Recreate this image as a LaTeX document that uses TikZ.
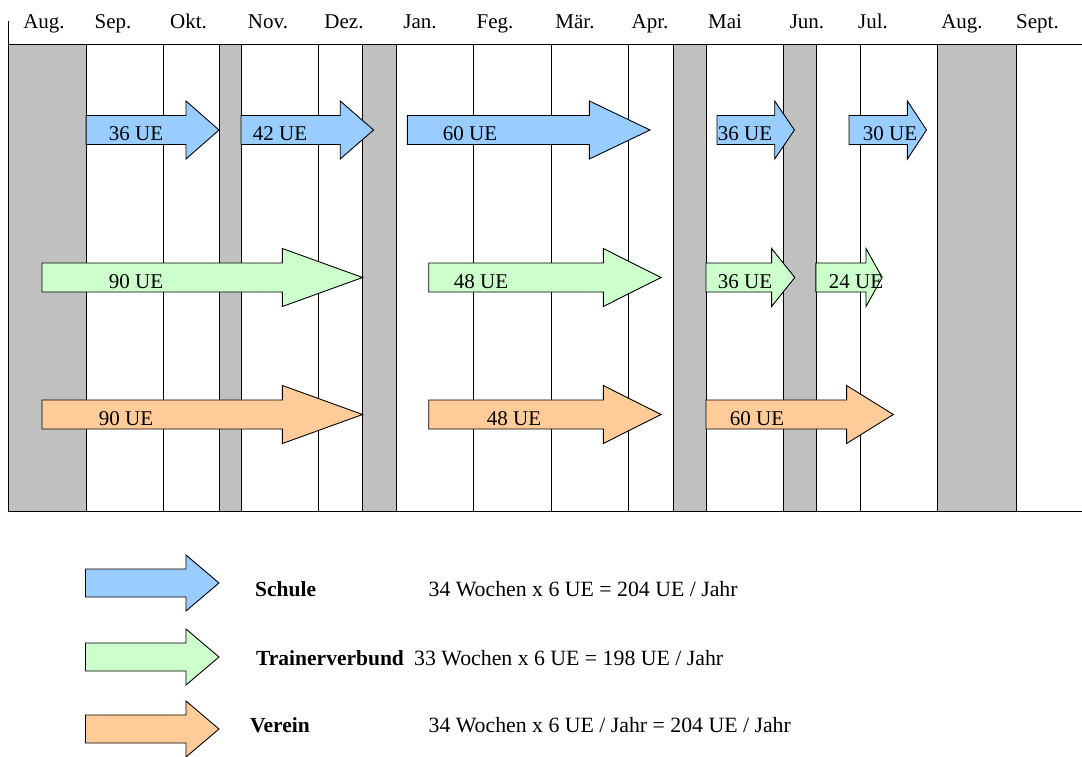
\documentclass[tikz,border=0pt]{standalone}
\usepackage{fontspec}
\setmainfont{Liberation Serif}
\definecolor{holgray}{HTML}{C0C0C0}
\definecolor{schule}{HTML}{99CCFF}
\definecolor{trainer}{HTML}{CCFFCC}
\definecolor{verein}{HTML}{FFCC99}
% block arrow: fill, shaft start x, head base x, tip x, centre y
\newcommand{\ueArrow}[5]{%
  \draw[arrowbox, fill=#1]
    (#2,#5-\shafthalf) -- (#3,#5-\shafthalf) -- (#3,#5-\headhalf) -- (#4,#5)
    -- (#3,#5+\headhalf) -- (#3,#5+\shafthalf) -- (#2,#5+\shafthalf) -- cycle;}
\begin{document}
\begin{tikzpicture}[x=1pt,y=-1pt,
  font=\fontsize{21}{25}\selectfont,
  gridline/.style={line width=0.8pt, draw=black},
  holiday/.style={fill=holgray, draw=black, line width=0.8pt},
  arrowbox/.style={draw=black, line width=0.9pt, line join=miter},
  lbl/.style={anchor=base, inner sep=0pt},
  leg/.style={anchor=base west, inner sep=0pt, font=\fontsize{21.8}{26}\selectfont},
  legbold/.style={anchor=base west, inner sep=0pt, font=\fontsize{21.5}{26}\selectfont\bfseries},
]
\useasboundingbox (0,0) rectangle (1082,757);
\fill[white] (0,0) rectangle (1082,757);

% holiday blocks
\foreach \a/\b in {8.3/86.1, 219/241, 362.6/396, 673/706, 783/816.5, 937.5/1016}
  \draw[holiday] (\a,44) rectangle (\b,511);
% month separators
\foreach \x in {163.6, 318.5, 473.5, 551.4, 628.8, 860.4}
  \draw[gridline] (\x,44) -- (\x,511);
% frame lines
\draw[gridline] (8.3,20.7) -- (8.3,44) -- (1082,44);
\draw[gridline] (8.3,511) -- (1082,511);

% month headings
\foreach \x/\t [count=\i] in {44/Aug., 113/Sep., 188.5/Okt., 268/Nov., 344/Dez., 420/Jan.,
  495/Feg., 575/Mär., 650/Apr., 725/Mai, 807/Jun., 873/Jul., 962/Aug., 1037.5/Sept.}
  \node[lbl] (m\i) at (\x,29) {\t};

\def\shafthalf{14.5}
\def\headhalf{29}
% Schule
\ueArrow{schule}{86.1}{186}{219}{130}
\ueArrow{schule}{241}{340.2}{373.6}{130}
\ueArrow{schule}{407.4}{589.4}{650}{130}
\ueArrow{schule}{717}{774.7}{794.4}{130}
\ueArrow{schule}{849}{907.4}{926.5}{130}
\node[lbl] (s1) at (136,141) {36 UE};
\node[lbl] (s2) at (280,141) {42 UE};
\node[lbl] (s3) at (470,141) {60 UE};
\node[lbl] (s4) at (745,141) {36 UE};
\node[lbl] (s5) at (890,141) {30 UE};
% Trainerverbund
\ueArrow{trainer}{42}{282.4}{362.6}{277.5}
\ueArrow{trainer}{428.7}{603.3}{661}{277.5}
\ueArrow{trainer}{706}{771.6}{794.8}{277.5}
\ueArrow{trainer}{815.8}{866}{882.2}{277.5}
\node[lbl] (t1) at (136,288.5) {90 UE};
\node[lbl] (t2) at (481,288.5) {48 UE};
\node[lbl] (t3) at (745,288.5) {36 UE};
\node[lbl] (t4) at (856,288.5) {24 UE};
% Verein
\ueArrow{verein}{42}{282.4}{362.6}{414.5}
\ueArrow{verein}{428.7}{603.3}{661}{414.5}
\ueArrow{verein}{706}{846.6}{893.3}{414.5}
\node[lbl] (v1) at (126,425.5) {90 UE};
\node[lbl] (v2) at (514,425.5) {48 UE};
\node[lbl] (v3) at (757,425.5) {60 UE};

% legend
\def\shafthalf{14}
\def\headhalf{28}
\ueArrow{schule}{85.5}{186}{219}{583}
\ueArrow{trainer}{85.5}{186}{219}{657}
\ueArrow{verein}{85.5}{186}{219}{729}
\node[legbold] (ls) at (255,596) {Schule};
\node[leg] (lsx) at (428.4,596) {34 Wochen x 6 UE = 204 UE / Jahr};
\node[legbold] (lt) at (256,665) {Trainerverbund};
\node[leg] (ltx) at (414,665) {33 Wochen x 6 UE = 198 UE / Jahr};
\node[legbold] (lv) at (249.8,732) {Verein};
\node[leg] (lvx) at (428.4,732) {34 Wochen x 6 UE / Jahr = 204 UE / Jahr};
\end{tikzpicture}
\end{document}
